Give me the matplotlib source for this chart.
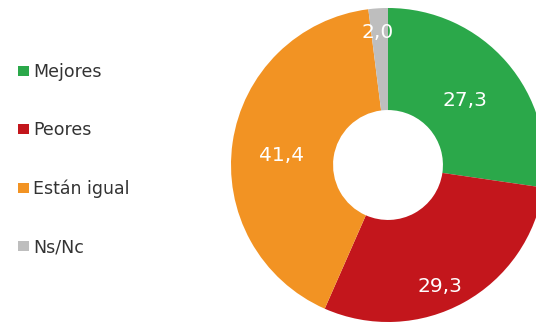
import matplotlib

matplotlib.use("Agg")
import matplotlib.pyplot as plt
from matplotlib.patches import Patch

categories = ["Mejores", "Peores", "Están igual", "Ns/Nc"]
values = [27.3, 29.3, 41.4, 2.0]
colors = ["#2BA84A", "#C3161C", "#F29323", "#BEBEBE"]

# value label placement (pixel coords, y from top) - Excel "best fit" style
label_pos = [(465, 100), (440, 287), (282, 155), (378, 32)]

W, H = 536, 322
plt.rcParams["font.family"] = "DejaVu Sans"

fig = plt.figure(figsize=(W / 100, H / 100), dpi=100)
ax = fig.add_axes([0, 0, 1, 1])

cx, cy, radius = 388, H - 165, 157
wedges, _ = ax.pie(
    values,
    colors=colors,
    startangle=90,
    counterclock=False,
    center=(cx, cy),
    radius=radius,
    wedgeprops={"width": radius * 0.65, "linewidth": 0},
    frame=True,
)
ax.set_xlim(0, W)
ax.set_ylim(0, H)
ax.set_aspect("equal")
ax.axis("off")

for val, (px, py) in zip(values, label_pos):
    ax.text(px, H - py, f"{val:.1f}".replace(".", ","), color="white",
            fontsize=14.5, ha="center", va="center")

handles = [Patch(facecolor=c, edgecolor="none") for c in colors]
fig.legend(
    handles,
    categories,
    loc="upper left",
    bbox_to_anchor=(0.005, 0.853),
    frameon=False,
    fontsize=12.5,
    handlelength=0.6,
    handleheight=0.55,
    handletextpad=0.25,
    labelspacing=2.32,
    labelcolor="#333333",
)

fig.savefig("out.png", dpi=100)
